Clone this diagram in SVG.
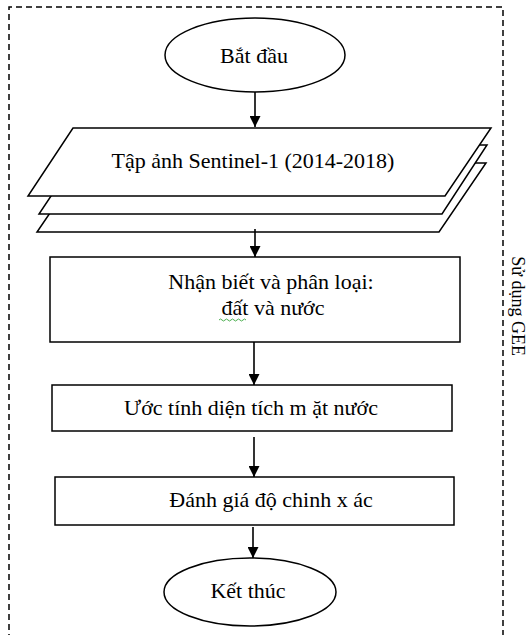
<svg xmlns="http://www.w3.org/2000/svg" width="531" height="635" viewBox="0 0 531 635">
<defs>
<marker id="ah" markerWidth="11" markerHeight="11" refX="11" refY="5.5" orient="auto" markerUnits="userSpaceOnUse">
<path d="M0,0 L11,5.5 L0,11 Z" fill="#000"/>
</marker>
<style>
.s{fill:#fff;stroke:#000;stroke-width:1.5}
.t{font-family:"Liberation Serif","Times New Roman",serif;font-size:22px;fill:#000;text-anchor:middle}
.c{stroke:#000;stroke-width:1.6;fill:none;marker-end:url(#ah)}
</style>
</defs>
<rect width="531" height="635" fill="#fff"/>
<g id="frame">
<path d="M9,640 L9,7 L503,7 L503,640" fill="none" stroke="#000" stroke-width="1.5" stroke-dasharray="6,4"/>
<text class="t" style="font-size:18px" transform="translate(512,306) rotate(90)">Sử dụng  GEE</text>
</g>
<g id="start">
<ellipse class="s" cx="255" cy="55" rx="90" ry="37"/>
<text class="t" x="254" y="63">Bắt đầu</text>
</g>
<g id="images">
<polygon class="s" points="84,163 486,163 439,232 37,232"/>
<polygon class="s" points="85,145 487,145 442,214 39,214"/>
<polygon class="s" points="73,128 491,128 445,196 28,196"/>
<text class="t" x="253" y="168">Tập ảnh Sentinel-1 (2014-2018)</text>
</g>
<g id="classify">
<rect class="s" x="50" y="257" width="410" height="85"/>
<text class="t" x="271" y="289">Nhận biết và phân loại:</text>
<text class="t" x="273" y="315">đất và nước</text>
<path d="M219,320 q1.5,-2 3,0 t3,0 t3,0 t3,0 t3,0 t3,0 t3,0 t3,0 t3,0" fill="none" stroke="#4caf50" stroke-width="1"/>
</g>
<g id="estimate">
<rect class="s" x="52" y="385" width="400" height="46"/>
<text class="t" x="251" y="415">Ước tính diện tích m ặt nước</text>
</g>
<g id="assess">
<rect class="s" x="55" y="477" width="399" height="48"/>
<text class="t" x="271" y="507">Đánh giá  độ chinh x ác</text>
</g>
<g id="end">
<ellipse class="s" cx="250" cy="592" rx="86" ry="34"/>
<text class="t" x="248" y="598">Kết thúc</text>
</g>
<g id="connectors">
<line class="c" x1="255" y1="92" x2="255" y2="127"/>
<line class="c" x1="255" y1="229" x2="255" y2="257"/>
<line class="c" x1="254" y1="342" x2="254" y2="385"/>
<line class="c" x1="254" y1="437" x2="254" y2="477"/>
<line class="c" x1="253" y1="527" x2="253" y2="558"/>
</g>
</svg>
